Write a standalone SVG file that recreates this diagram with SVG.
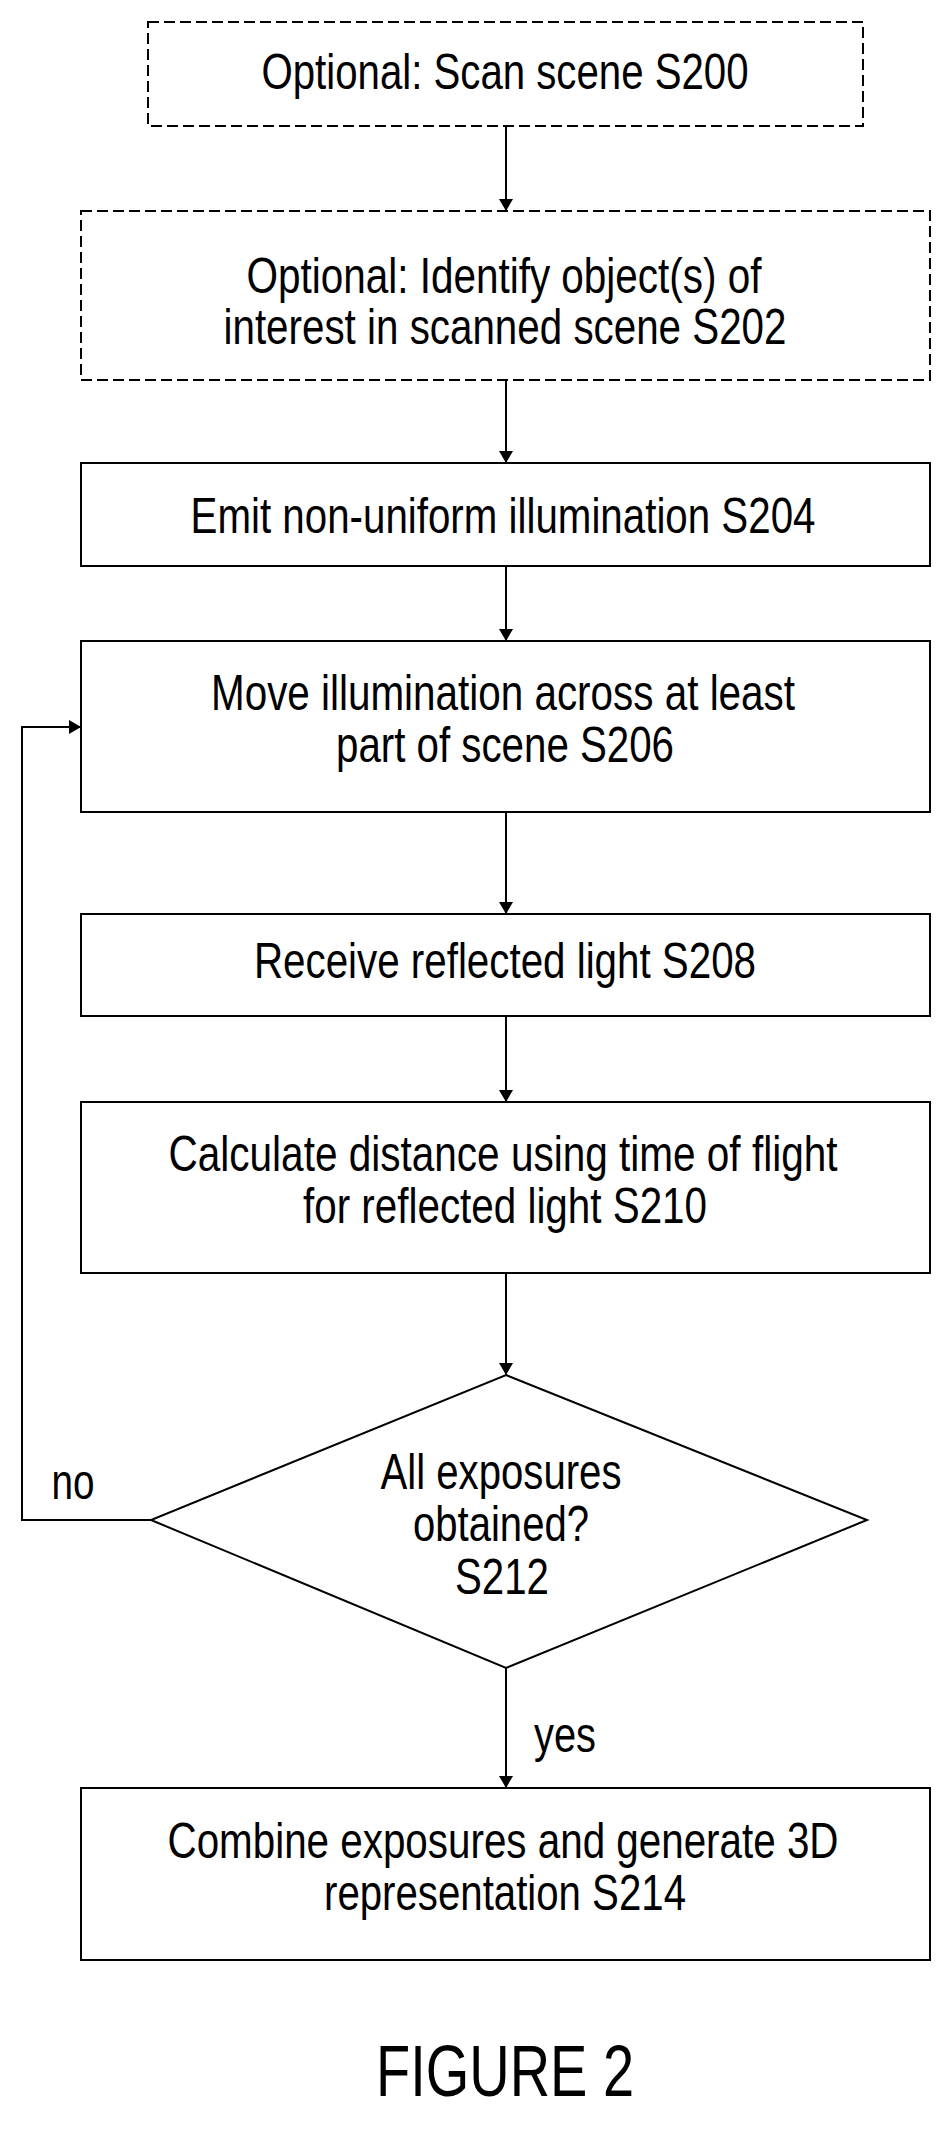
<svg xmlns="http://www.w3.org/2000/svg" width="952" height="2153" viewBox="0 0 952 2153">
<style>
.b{fill:#fff;stroke:#000;stroke-width:2}
.d{stroke-dasharray:11 5}
text{font-family:"Liberation Sans",Arial,sans-serif;font-size:50px;fill:#000;text-anchor:middle}
.c{stroke:#000;stroke-width:2;fill:none}
</style>
<defs><marker id="a" markerWidth="12" markerHeight="14" refX="11" refY="7" orient="auto" markerUnits="userSpaceOnUse"><path d="M0,0L12,7L0,14Z" fill="#000"/></marker></defs>
<rect width="952" height="2153" fill="#fff"/>
<g id="connectors">
<path class="c" d="M506,126V210" marker-end="url(#a)"/>
<path class="c" d="M506,380V462" marker-end="url(#a)"/>
<path class="c" d="M506,566V640" marker-end="url(#a)"/>
<path class="c" d="M506,812V913" marker-end="url(#a)"/>
<path class="c" d="M506,1016V1101" marker-end="url(#a)"/>
<path class="c" d="M506,1273V1374" marker-end="url(#a)"/>
<path class="c" d="M506,1668V1787" marker-end="url(#a)"/>
<path class="c" d="M151,1520H22V727H80" marker-end="url(#a)"/>
<text x="73" y="1499" textLength="43" lengthAdjust="spacingAndGlyphs">no</text>
<text x="565" y="1752" textLength="62" lengthAdjust="spacingAndGlyphs">yes</text>
</g>
<g id="s200"><rect class="b d" x="148" y="22" width="715" height="104"/><text x="505" y="89" textLength="487" lengthAdjust="spacingAndGlyphs">Optional: Scan scene S200</text></g>
<g id="s202"><rect class="b d" x="81" y="211" width="849" height="169"/><text x="504" y="293" textLength="515" lengthAdjust="spacingAndGlyphs">Optional: Identify object(s) of</text><text x="505" y="344" textLength="563" lengthAdjust="spacingAndGlyphs">interest in scanned scene S202</text></g>
<g id="s204"><rect class="b" x="81" y="463" width="849" height="103"/><text x="503" y="533" textLength="625" lengthAdjust="spacingAndGlyphs">Emit non-uniform illumination S204</text></g>
<g id="s206"><rect class="b" x="81" y="641" width="849" height="171"/><text x="503" y="710" textLength="584" lengthAdjust="spacingAndGlyphs">Move illumination across at least</text><text x="505" y="762" textLength="338" lengthAdjust="spacingAndGlyphs">part of scene S206</text></g>
<g id="s208"><rect class="b" x="81" y="914" width="849" height="102"/><text x="505" y="978" textLength="502" lengthAdjust="spacingAndGlyphs">Receive reflected light S208</text></g>
<g id="s210"><rect class="b" x="81" y="1102" width="849" height="171"/><text x="503" y="1171" textLength="669" lengthAdjust="spacingAndGlyphs">Calculate distance using time of flight</text><text x="505" y="1223" textLength="404" lengthAdjust="spacingAndGlyphs">for reflected light S210</text></g>
<g id="s212"><path class="b" d="M506,1375L867,1520L506,1668L151,1520Z"/><text x="501" y="1489" textLength="241" lengthAdjust="spacingAndGlyphs">All exposures</text><text x="501" y="1541" textLength="176" lengthAdjust="spacingAndGlyphs">obtained?</text><text x="502" y="1594" textLength="94" lengthAdjust="spacingAndGlyphs">S212</text></g>
<g id="s214"><rect class="b" x="81" y="1788" width="849" height="172"/><text x="503" y="1858" textLength="671" lengthAdjust="spacingAndGlyphs">Combine exposures and generate 3D</text><text x="505" y="1910" textLength="362" lengthAdjust="spacingAndGlyphs">representation S214</text></g>
<text x="505" y="2096" style="font-size:72px" textLength="258" lengthAdjust="spacingAndGlyphs">FIGURE 2</text>
</svg>
